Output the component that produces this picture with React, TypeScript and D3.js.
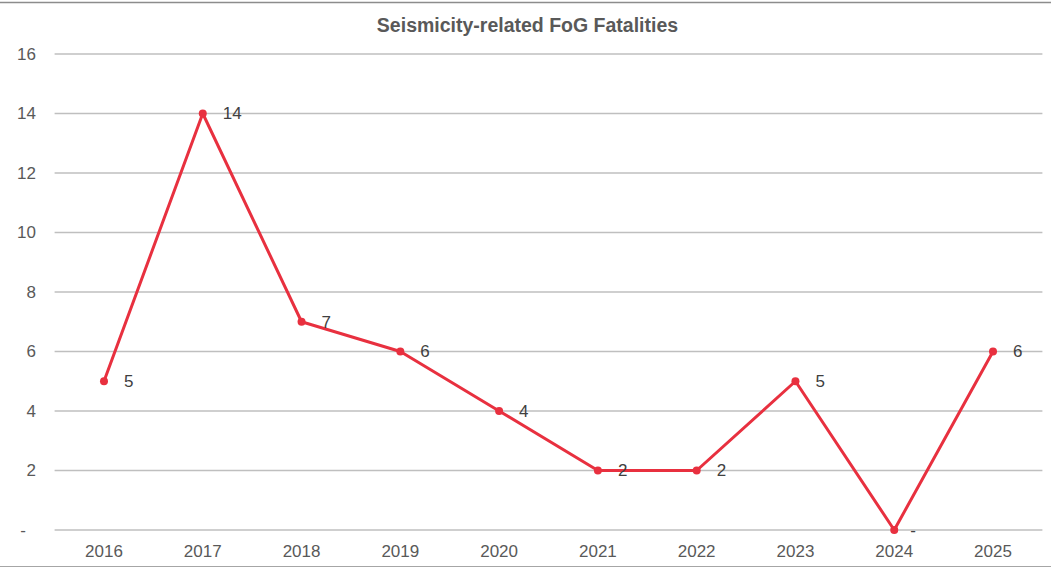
import React, { useEffect, useRef } from "react";
import * as d3 from "d3";

const years = ["2016", "2017", "2018", "2019", "2020", "2021", "2022", "2023", "2024", "2025"];
const fatalities = [5, 14, 7, 6, 4, 2, 2, 5, 0, 6];
const yTicks = [0, 2, 4, 6, 8, 10, 12, 14, 16];
const title = "Seismicity-related FoG Fatalities";

const W = 1051;
const H = 568;
const FONT = "'Liberation Sans', Arial, sans-serif";
const TEXT = "#595959";
const RED = "#E8303F";

export default function App() {
  const ref = useRef<SVGSVGElement | null>(null);

  useEffect(() => {
    const svg = d3.select(ref.current);
    svg.selectAll("*").remove();

    const left = 54.6, right = 1042.4, top = 54, bottom = 530;
    const x = d3.scaleBand<string>().domain(years).range([left, right]);
    const y = d3.scaleLinear().domain([0, 16]).range([bottom, top]);
    const cx = (d: string) => (x(d) as number) + x.bandwidth() / 2;

    svg.append("rect").attr("x", 0).attr("y", 0).attr("width", W).attr("height", H).attr("fill", "#fff");
    svg.append("line").attr("x1", 0).attr("x2", W).attr("y1", 2.5).attr("y2", 2.5).attr("stroke", "#8c8c8c").attr("stroke-width", 1.5);
    svg.append("line").attr("x1", 0).attr("x2", W).attr("y1", 566.5).attr("y2", 566.5).attr("stroke", "#a6a6a6").attr("stroke-width", 1);

    svg.append("text")
      .attr("x", 527.5).attr("y", 32)
      .attr("text-anchor", "middle")
      .attr("font-family", FONT).attr("font-weight", "bold").attr("font-size", 19.5)
      .attr("fill", TEXT)
      .text(title);

    const g = svg.append("g");
    g.selectAll("line.grid").data(yTicks).enter().append("line")
      .attr("x1", left).attr("x2", right)
      .attr("y1", (d) => y(d)).attr("y2", (d) => y(d))
      .attr("stroke", "#bfbfbf").attr("stroke-width", 1.5);

    g.selectAll("text.yt").data(yTicks).enter().append("text")
      .attr("x", (d) => (d === 0 ? 23 : 36))
      .attr("y", (d) => y(d))
      .attr("dy", "0.35em")
      .attr("text-anchor", (d) => (d === 0 ? "middle" : "end"))
      .attr("font-family", FONT).attr("font-size", 17).attr("fill", TEXT)
      .text((d) => (d === 0 ? "-" : String(d)));

    g.selectAll("text.xt").data(years).enter().append("text")
      .attr("x", (d) => cx(d))
      .attr("y", 557)
      .attr("text-anchor", "middle")
      .attr("font-family", FONT).attr("font-size", 17).attr("fill", TEXT)
      .text((d) => d);

    const pts = years.map((yr, i) => ({ yr, v: fatalities[i] }));
    const line = d3.line<{ yr: string; v: number }>().x((d) => cx(d.yr)).y((d) => y(d.v));
    g.append("path").datum(pts)
      .attr("d", line)
      .attr("fill", "none").attr("stroke", RED).attr("stroke-width", 3)
      .attr("stroke-linejoin", "round");

    g.selectAll("circle.pt").data(pts).enter().append("circle")
      .attr("cx", (d) => cx(d.yr)).attr("cy", (d) => y(d.v))
      .attr("r", 4).attr("fill", RED);

    g.selectAll("text.lbl").data(pts).enter().append("text")
      .attr("x", (d) => cx(d.yr) + (d.v === 0 ? 16 : 20))
      .attr("y", (d) => y(d.v))
      .attr("dy", "0.35em")
      .attr("font-family", FONT).attr("font-size", 17).attr("fill", "#404040")
      .text((d) => (d.v === 0 ? "-" : String(d.v)));
  }, []);

  return (
    <svg ref={ref} width={W} height={H} style={{ position: "absolute", left: 0, top: 0, display: "block" }} />
  );
}
